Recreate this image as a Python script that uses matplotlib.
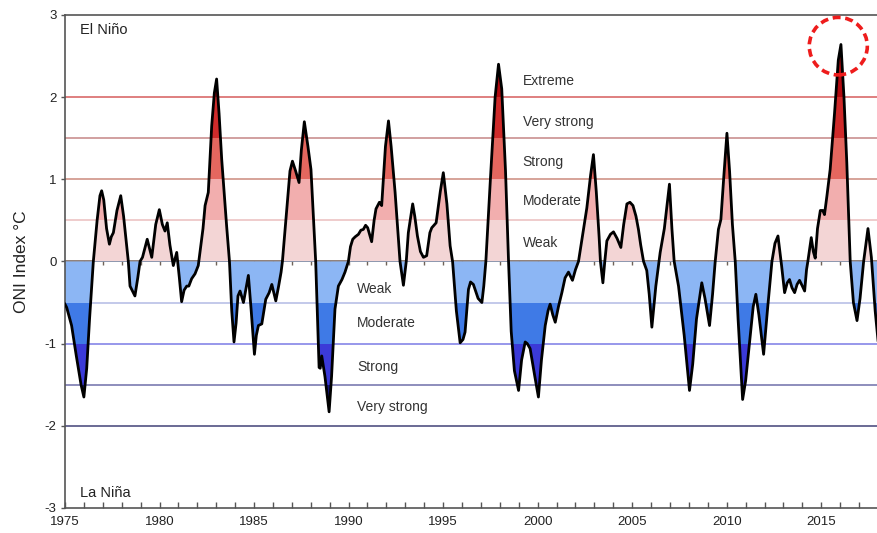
import numpy as np
import matplotlib
matplotlib.use("Agg")
import matplotlib.pyplot as plt
from matplotlib.patches import Polygon, Ellipse

plt.rcParams['font.family'] = ['Liberation Sans', 'DejaVu Sans']
plt.rcParams['axes.unicode_minus'] = False

# Oceanic Nino Index, 1975-2018
year = [
    1975.00, 1975.09, 1975.35, 1975.60, 1975.85, 1976.00, 1976.15, 1976.30, 1976.50, 1976.70,
    1976.85, 1976.94, 1977.05, 1977.20, 1977.35, 1977.45, 1977.56, 1977.75, 1977.95, 1978.10,
    1978.35, 1978.44, 1978.55, 1978.70, 1978.85, 1978.97, 1979.10, 1979.35, 1979.59, 1979.80,
    1979.99, 1980.15, 1980.29, 1980.41, 1980.55, 1980.73, 1980.91, 1981.05, 1981.17, 1981.30,
    1981.44, 1981.55, 1981.70, 1981.88, 1982.05, 1982.14, 1982.30, 1982.41, 1982.58, 1982.76,
    1982.90, 1983.02, 1983.15, 1983.29, 1983.55, 1983.70, 1983.82, 1983.94, 1984.05, 1984.15,
    1984.26, 1984.44, 1984.60, 1984.70, 1984.85, 1985.02, 1985.12, 1985.23, 1985.41, 1985.62,
    1985.80, 1985.94, 1986.15, 1986.30, 1986.43, 1986.50, 1986.73, 1986.90, 1987.03, 1987.20,
    1987.38, 1987.50, 1987.66, 1987.85, 1988.01, 1988.15, 1988.26, 1988.44, 1988.50, 1988.58,
    1988.75, 1988.97, 1989.10, 1989.28, 1989.46, 1989.65, 1989.81, 1989.99, 1990.10, 1990.22,
    1990.35, 1990.52, 1990.65, 1990.78, 1990.90, 1991.01, 1991.22, 1991.35, 1991.45, 1991.63,
    1991.75, 1991.95, 1992.11, 1992.25, 1992.46, 1992.72, 1992.90, 1993.05, 1993.16, 1993.39,
    1993.50, 1993.64, 1993.80, 1993.96, 1994.13, 1994.30, 1994.40, 1994.63, 1994.85, 1995.01,
    1995.20, 1995.37, 1995.50, 1995.70, 1995.90, 1996.05, 1996.16, 1996.34, 1996.45, 1996.60,
    1996.85, 1997.05, 1997.15, 1997.26, 1997.50, 1997.75, 1997.93, 1998.10, 1998.30, 1998.46,
    1998.60, 1998.77, 1998.99, 1999.15, 1999.34, 1999.45, 1999.60, 1999.85, 2000.04, 2000.20,
    2000.40, 2000.55, 2000.66, 2000.80, 2000.93, 2001.10, 2001.28, 2001.45, 2001.63, 2001.84,
    2002.00, 2002.16, 2002.37, 2002.60, 2002.80, 2002.95, 2003.10, 2003.25, 2003.32, 2003.45,
    2003.55, 2003.66, 2003.85, 2004.01, 2004.20, 2004.40, 2004.55, 2004.72, 2004.88, 2005.04,
    2005.20, 2005.33, 2005.45, 2005.60, 2005.77, 2005.90, 2006.04, 2006.25, 2006.48, 2006.70,
    2006.97, 2007.10, 2007.22, 2007.45, 2007.75, 2008.03, 2008.20, 2008.40, 2008.68, 2008.85,
    2009.09, 2009.25, 2009.39, 2009.56, 2009.69, 2009.85, 2010.01, 2010.15, 2010.30, 2010.45,
    2010.60, 2010.84, 2011.00, 2011.20, 2011.40, 2011.54, 2011.70, 2011.95, 2012.15, 2012.39,
    2012.55, 2012.71, 2012.90, 2013.06, 2013.20, 2013.32, 2013.45, 2013.59, 2013.72, 2013.85,
    2014.00, 2014.12, 2014.22, 2014.29, 2014.47, 2014.58, 2014.68, 2014.80, 2014.95, 2015.08,
    2015.17, 2015.30, 2015.47, 2015.70, 2015.90, 2016.04, 2016.20, 2016.35, 2016.53, 2016.70,
    2016.89, 2017.05, 2017.24, 2017.47, 2017.65, 2017.85, 2018.00,
]
oni = [
    -0.52, -0.56, -0.78, -1.15, -1.50, -1.65, -1.30, -0.70, 0.00, 0.50,
    0.80, 0.86, 0.75, 0.40, 0.21, 0.30, 0.35, 0.62, 0.80, 0.55,
    0.00, -0.30, -0.35, -0.42, -0.20, 0.00, 0.05, 0.27, 0.05, 0.45,
    0.63, 0.45, 0.37, 0.47, 0.20, -0.05, 0.11, -0.20, -0.49, -0.35,
    -0.30, -0.30, -0.21, -0.15, -0.05, 0.11, 0.40, 0.68, 0.84, 1.65,
    2.05, 2.22, 1.80, 1.24, 0.43, 0.00, -0.60, -0.98, -0.75, -0.42,
    -0.36, -0.50, -0.30, -0.17, -0.60, -1.13, -0.90, -0.78, -0.76, -0.46,
    -0.38, -0.28, -0.48, -0.30, -0.13, 0.00, 0.64, 1.10, 1.22, 1.10,
    0.96, 1.35, 1.70, 1.40, 1.12, 0.50, 0.00, -1.29, -1.30, -1.15,
    -1.40, -1.83, -1.40, -0.58, -0.30, -0.22, -0.13, 0.00, 0.18, 0.27,
    0.30, 0.33, 0.38, 0.39, 0.44, 0.41, 0.24, 0.50, 0.64, 0.72,
    0.68, 1.40, 1.71, 1.40, 0.84, 0.00, -0.29, 0.00, 0.35, 0.70,
    0.55, 0.31, 0.12, 0.05, 0.07, 0.35, 0.41, 0.47, 0.85, 1.08,
    0.70, 0.19, 0.00, -0.60, -0.99, -0.95, -0.86, -0.34, -0.25, -0.28,
    -0.45, -0.50, -0.30, 0.00, 1.00, 2.00, 2.40, 2.10, 1.10, 0.00,
    -0.85, -1.33, -1.57, -1.20, -0.98, -1.00, -1.06, -1.40, -1.65, -1.20,
    -0.78, -0.60, -0.52, -0.65, -0.74, -0.55, -0.38, -0.20, -0.13, -0.23,
    -0.10, 0.00, 0.31, 0.65, 1.05, 1.30, 0.85, 0.30, 0.00, -0.26,
    0.00, 0.25, 0.33, 0.36, 0.28, 0.17, 0.45, 0.70, 0.72, 0.68,
    0.55, 0.39, 0.20, 0.00, -0.11, -0.40, -0.80, -0.30, 0.11, 0.40,
    0.94, 0.40, 0.00, -0.30, -0.90, -1.57, -1.25, -0.70, -0.26, -0.45,
    -0.78, -0.40, 0.00, 0.39, 0.51, 1.05, 1.56, 1.10, 0.45, 0.00,
    -0.70, -1.68, -1.45, -1.00, -0.55, -0.40, -0.65, -1.13, -0.60, 0.00,
    0.22, 0.31, -0.05, -0.38, -0.26, -0.22, -0.32, -0.38, -0.28, -0.23,
    -0.30, -0.36, -0.10, 0.00, 0.29, 0.12, 0.04, 0.40, 0.62, 0.62,
    0.57, 0.80, 1.12, 1.80, 2.45, 2.64, 2.00, 1.20, 0.00, -0.50,
    -0.72, -0.45, 0.00, 0.40, 0.05, -0.60, -0.96,
]

# intensity bands: (lower, upper, fill colour)
bands = [
    (0.0, 0.5, '#f3d5d5'), (0.5, 1.0, '#f2aeae'), (1.0, 1.5, '#e4675f'),
    (1.5, 2.0, '#cf2b2b'), (2.0, 3.0, '#b20a10'),
    (-0.5, 0.0, '#8cb6f4'), (-1.0, -0.5, '#3f7ae6'), (-1.5, -1.0, '#3b3ad8'),
    (-2.0, -1.5, '#16167a'),
]
thresholds = [2.0, 1.5, 1.0, 0.5, -0.5, -1.0, -1.5, -2.0]
threshold_colors = ['#d96a6a', '#c99090', '#d09388', '#ecc4c4',
                    '#b9c0e6', '#8585e8', '#7a7ab0', '#505082']

warm_labels = ['Extreme', 'Very strong', 'Strong', 'Moderate', 'Weak']
warm_label_y = [2.2, 1.7, 1.21, 0.73, 0.23]
cold_labels = ['Weak', 'Moderate', 'Strong', 'Very strong']
cold_label_y = [-0.33, -0.75, -1.28, -1.77]

x = np.array(year)
y = np.array(oni)

fig = plt.figure(figsize=(8.78, 5.33), dpi=100)
ax = fig.add_axes([0.074, 0.047, 0.926, 0.925])
ax.set_xlim(1975, 2018)
ax.set_ylim(-3, 3)

for lvl, c in zip(thresholds, threshold_colors):
    ax.axhline(lvl, color=c, lw=1.2, zorder=1)

# area between the curve and zero, used to clip the coloured bands
area = Polygon(np.column_stack([np.r_[x, x[::-1]], np.r_[y, np.zeros_like(y)]]),
               closed=True, facecolor='none', edgecolor='none')
ax.add_patch(area)
for lo, hi, c in bands:
    span = ax.axhspan(lo, hi, color=c, lw=0, zorder=2)
    span.set_clip_path(area)

ax.plot(x, y, color='black', lw=2.0, solid_joinstyle='round', zorder=4)

# zero line with small yearly ticks hanging below it
zero = ax.secondary_xaxis(0.5)
zero.set_xticks(np.arange(1975, 2019, 1))
zero.set_xticklabels([])
zero.tick_params(direction='in', length=3, width=1, color='#6e6258',
                 labeltop=False, labelbottom=False)
for side in ['top', 'bottom']:
    zero.spines[side].set_color('#7d6a60')
    zero.spines[side].set_linewidth(1.2)

for lbl, ly in zip(warm_labels, warm_label_y):
    ax.text(1999.2, ly, lbl, fontsize=10, color='#333333', va='center', ha='left', zorder=5)
for lbl, ly in zip(cold_labels, cold_label_y):
    ax.text(1990.45, ly, lbl, fontsize=10, color='#333333', va='center', ha='left', zorder=5)

ax.text(1975.8, 2.82, 'El Niño', fontsize=10.5, color='#222222', va='center', ha='left')
ax.text(1975.8, -2.82, 'La Niña', fontsize=10.5, color='#222222', va='center', ha='left')

ax.add_patch(Ellipse((2015.9, 2.62), 3.07, 0.70, fill=False, edgecolor='#ee1c1c',
                     lw=2.6, linestyle=(0, (2.2, 1.3)), zorder=6))

ax.set_xticks(np.arange(1975, 2019, 5))
ax.set_xticks(np.arange(1975, 2019, 1), minor=True)
ax.set_yticks(np.arange(-3, 4, 1))
ax.tick_params(axis='x', which='both', direction='in', length=4, width=1,
               color='#555555', labelsize=9.5, labelcolor='#222222', pad=6)
ax.tick_params(axis='y', direction='out', length=3, width=1,
               color='#555555', labelsize=9.5, labelcolor='#222222', pad=3)
for side in ['left', 'top', 'bottom']:
    ax.spines[side].set_color('#555555')
    ax.spines[side].set_linewidth(1.2)
ax.spines['right'].set_visible(False)

ax.set_ylabel('ONI Index °C', fontsize=12.5, color='#222222', labelpad=11)

fig.savefig('out.png', dpi=100)
